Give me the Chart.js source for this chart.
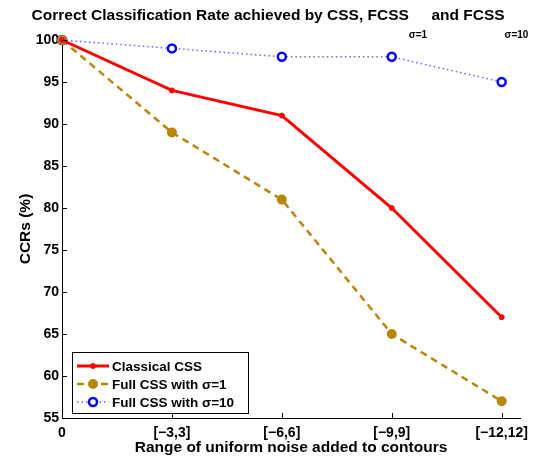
<!DOCTYPE html>
<html><head><meta charset="utf-8">
<script src="https://cdn.jsdelivr.net/npm/chart.js@4.4.0/dist/chart.umd.min.js"></script>
<style>html,body{margin:0;padding:0;background:#fff}#wrap{width:553px;height:456px}</style>
</head><body><div id="wrap"><canvas id="c" width="553" height="456"></canvas></div>
<script>
const xValues = [0, 3, 6, 9, 12];
const xTickLabels = ['0', '[\u22123,3]', '[\u22126,6]', '[\u22129,9]', '[\u221212,12]'];
const yTickValues = [55, 60, 65, 70, 75, 80, 85, 90, 95, 100];
const classicalCSS = [100, 94, 91, 80, 67];
const fullCSSSigma1 = [100, 89, 81, 65, 57];
const fullCSSSigma10 = [100, 99, 98, 98, 95];
const seriesLabels = ['Classical CSS', 'Full CSS with \u03c3=1', 'Full CSS with \u03c3=10'];
const titleParts = [
  {text: 'Correct Classification Rate achieved by CSS, FCSS', sub: false},
  {text: '\u03c3=1', sub: true},
  {text: ' and FCSS', sub: false},
  {text: '\u03c3=10', sub: true}
];
const xTitle = 'Range of uniform noise added to contours';
const yTitle = 'CCRs (%)';

const FONT = '"Liberation Sans", Arial, Helvetica, sans-serif';
const RED = '#ff0000', GOLD = '#b8860b', BLUE = '#0000ff';

function pts(arr){ return arr.map((v,i)=>({x:xValues[i], y:v})); }

const titlePlugin = {
  id: 'subTitle',
  afterDraw(chart){
    const ctx = chart.ctx;
    ctx.save();
    const mainFont = 'bold 15.5px ' + FONT;
    const subFont = 'bold 10px ' + FONT;
    let total = 0;
    const widths = titleParts.map(p => { ctx.font = p.sub ? subFont : mainFont; const w = ctx.measureText(p.text).width; total += w; return w; });
    let x = 280 - total/2;
    ctx.fillStyle = '#000';
    ctx.textBaseline = 'alphabetic';
    ctx.textAlign = 'left';
    titleParts.forEach((p,i)=>{
      ctx.font = p.sub ? subFont : mainFont;
      ctx.fillText(p.text, x, p.sub ? 38 : 20);
      x += widths[i];
    });
    ctx.restore();
  }
};

const inwardTicks = {
  id: 'inwardTicks',
  afterDatasetsDraw(chart){
    const ctx = chart.ctx, a = chart.chartArea;
    const xs = chart.scales.x, ys = chart.scales.y;
    ctx.save();
    ctx.strokeStyle = '#000'; ctx.lineWidth = 1;
    ctx.beginPath();
    xValues.forEach(v => { const px = Math.round(xs.getPixelForValue(v)) + 0.5; ctx.moveTo(px, a.bottom); ctx.lineTo(px, a.bottom - 5); });
    yTickValues.forEach(v => { const py = Math.round(ys.getPixelForValue(v)) + 0.5; ctx.moveTo(a.left, py); ctx.lineTo(a.left + 5, py); });
    ctx.stroke();
    ctx.restore();
  }
};

const legendPlugin = {
  id: 'boxLegend',
  afterDraw(chart){
    const ctx = chart.ctx;
    ctx.save();
    const bx = 72.5, by = 352.5, bw = 176, bh = 61;
    ctx.fillStyle = '#fff'; ctx.fillRect(bx, by, bw, bh);
    ctx.strokeStyle = '#000'; ctx.lineWidth = 1; ctx.strokeRect(bx, by, bw, bh);
    const rows = [366, 384, 402];
    chart.data.datasets.forEach((ds, i) => {
      const y = rows[i];
      ctx.beginPath();
      ctx.setLineDash(ds.borderDash || []);
      ctx.strokeStyle = ds.borderColor; ctx.lineWidth = ds.borderWidth;
      ctx.moveTo(77, y); ctx.lineTo(109, y); ctx.stroke();
      ctx.setLineDash([]);
      ctx.beginPath();
      ctx.arc(93, y, ds.pointRadius, 0, Math.PI*2);
      ctx.fillStyle = ds.pointBackgroundColor; ctx.fill();
      ctx.lineWidth = ds.pointBorderWidth; ctx.strokeStyle = ds.pointBorderColor; ctx.stroke();
      ctx.fillStyle = '#000';
      ctx.font = 'bold 13.5px ' + FONT;
      ctx.textBaseline = 'middle'; ctx.textAlign = 'left';
      ctx.fillText(ds.label, 112, y + 1);
    });
    ctx.restore();
  }
};

new Chart(document.getElementById('c'), {
  type: 'line',
  data: {
    datasets: [
      {label: seriesLabels[0], data: pts(classicalCSS), borderColor: RED, borderWidth: 3, pointRadius: 2.5,
       pointBackgroundColor: RED, pointBorderColor: RED, pointBorderWidth: 1, clip: false, tension: 0},
      {label: seriesLabels[1], data: pts(fullCSSSigma1), borderColor: GOLD, borderWidth: 2.5, borderDash: [7, 5],
       pointRadius: 4, pointBackgroundColor: GOLD, pointBorderColor: GOLD, pointBorderWidth: 2, clip: false, tension: 0},
      {label: seriesLabels[2], data: pts(fullCSSSigma10), borderColor: 'rgba(60,60,255,0.8)', borderWidth: 1.5, borderDash: [1.5, 3],
       pointRadius: 4, pointBackgroundColor: '#fff', pointBorderColor: BLUE, pointBorderWidth: 2.5, clip: false, tension: 0}
    ]
  },
  options: {
    responsive: false, animation: false,
    layout: {padding: {top: 40, right: 33, left: 0, bottom: 0}},
    plugins: {legend: {display: false}, tooltip: {enabled: false}, title: {display: false}},
    scales: {
      x: {
        type: 'linear', min: 0, max: 12.5,
        afterBuildTicks: s => { s.ticks = xValues.map(v => ({value: v})); },
        afterFit: s => { s.height = 38; },
        grid: {display: false, drawTicks: false},
        border: {display: true, color: '#000', width: 1},
        ticks: {padding: 7, color: '#000', font: {family: FONT, size: 14, weight: 'bold'},
                callback: (v) => { const i = xValues.indexOf(v); return i >= 0 ? xTickLabels[i] : ''; }, maxRotation: 0, autoSkip: false},
        title: {display: true, text: xTitle, color: '#000', font: {family: FONT, size: 15.5, weight: 'bold'}, padding: {top: 0, bottom: -1.5}}
      },
      y: {
        min: 55, max: 100,
        afterBuildTicks: s => { s.ticks = yTickValues.map(v => ({value: v})); },
        afterFit: s => { s.width = 62; },
        grid: {display: false, drawTicks: false},
        border: {display: true, color: '#000', width: 1},
        ticks: {padding: 3, color: '#000', font: {family: FONT, size: 14, weight: 'bold'}},
        title: {display: true, text: yTitle, color: '#000', font: {family: FONT, size: 15.5, weight: 'bold'}, padding: {top: 16, bottom: 0}}
      }
    }
  },
  plugins: [titlePlugin, inwardTicks, legendPlugin]
});
</script></body></html>
